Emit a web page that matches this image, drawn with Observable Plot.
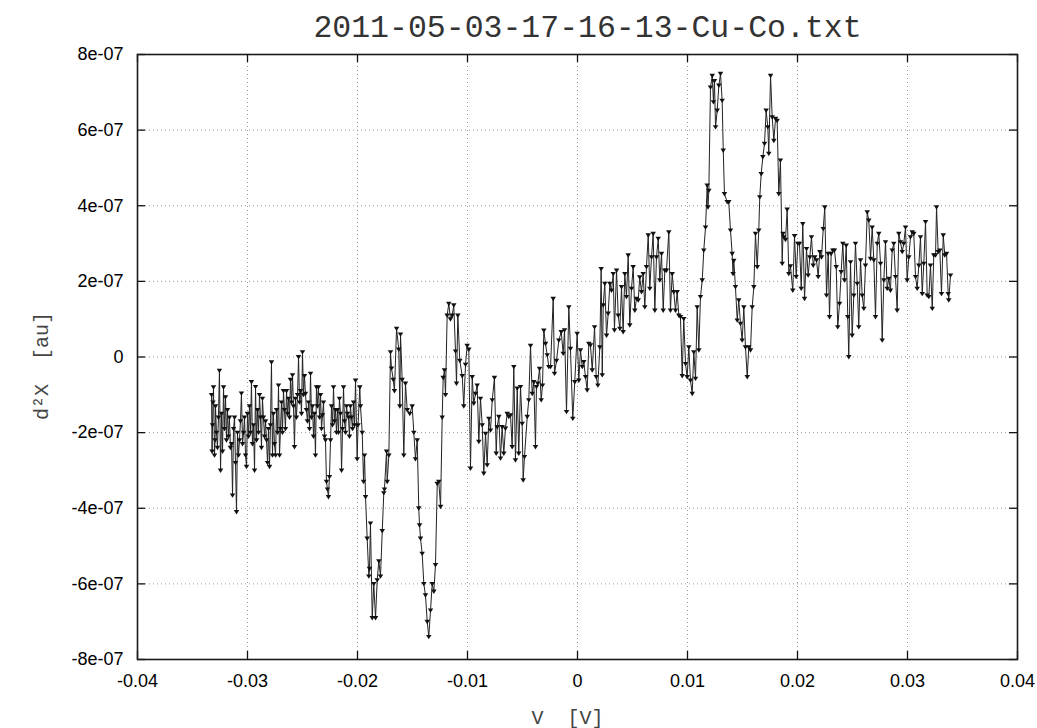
<!DOCTYPE html>
<html>
<head>
<meta charset="utf-8">
<script src="https://cdn.jsdelivr.net/npm/d3@7"></script>
<script src="https://cdn.jsdelivr.net/npm/@observablehq/plot@0.6"></script>
<style>
  html, body { margin: 0; padding: 0; background: #fff; }
  svg text { white-space: pre; }
</style>
</head>
<body>
<div id="chart"></div>
<script>
// ---- data (V in mV, d2X in units of 1e-7) ----
const segA_mV = [-33.27,-33.22,-33.18,-33.14,-33.09,-33.0,-32.95,-32.91,-32.82,-32.73,-32.64,-32.55,-32.45,-32.36,-32.27,-32.18,-32.09,-32.0,-31.91,-31.82,-31.73,-31.64,-31.55,-31.45,-31.36,-31.27,-31.18,-31.09,-31.0,-30.91,-30.82,-30.73,-30.64,-30.55,-30.45,-30.36,-30.27,-30.18,-30.09,-30.0,-29.91,-29.82,-29.73,-29.64,-29.55,-29.45,-29.36,-29.27,-29.18,-29.09,-29.0,-28.91,-28.82,-28.73,-28.64,-28.55,-28.45,-28.36,-28.27,-28.18,-28.09,-28.0,-27.91,-27.82,-27.73,-27.64,-27.55,-27.45,-27.36,-27.27,-27.18,-27.09,-27.0,-26.91,-26.82,-26.73,-26.64,-26.55,-26.45,-26.36,-26.27,-26.18,-26.09,-26.0,-25.91,-25.82,-25.73,-25.64,-25.55,-25.45,-25.36,-25.27,-25.18,-25.09,-25.0,-24.91,-24.82,-24.73,-24.64,-24.55,-24.45,-24.36,-24.27,-24.18,-24.09,-24.0,-23.91,-23.82,-23.73,-23.64,-23.55,-23.45,-23.36,-23.27,-23.18,-23.09,-23.0,-22.91,-22.82,-22.73,-22.64,-22.55,-22.45,-22.36,-22.27,-22.18,-22.09,-22.0,-21.91,-21.82,-21.73,-21.64,-21.55,-21.45,-21.36,-21.27,-21.18,-21.09,-21.0,-20.91,-20.82,-20.73,-20.64,-20.55,-20.45,-20.36,-20.27,-20.18];
const segA_d2x = [-1.0,-2.5,-1.8,-1.2,-0.8,-2.6,-2.2,-1.3,-2.0,-2.4,-1.6,-0.36,-3.0,-1.5,-2.5,-0.8,-1.9,-1.06,-2.2,-1.4,-2.1,-1.6,-2.4,-2.3,-3.66,-1.9,-1.6,-2.8,-4.1,-2.0,-2.6,-2.2,-1.7,-0.96,-2.3,-2.0,-1.6,-2.6,-2.9,-1.5,-2.1,-1.3,-2.0,-0.66,-2.3,-1.8,-3.0,-0.79,-2.2,-1.4,-2.0,-1.0,-1.6,-2.4,-1.1,-1.6,-2.1,-1.7,-2.2,-2.8,-1.9,-2.9,-1.8,-0.14,-2.6,-1.5,-2.3,-2.6,-1.4,-2.0,-0.75,-2.6,-1.9,-1.2,-2.0,-0.9,-1.4,-1.9,-0.9,-1.5,-1.1,-1.6,-0.6,-1.2,-0.48,-1.3,-2.38,-1.1,-1.6,-1.0,0.0,-1.2,-0.9,-1.5,0.13,-1.0,-0.5,-0.97,-1.4,-1.7,-1.2,-1.9,-0.44,-1.6,-1.3,-2.1,-1.5,-2.6,-0.8,-1.3,-0.8,-1.6,-1.0,-1.9,-1.54,-1.2,-2.1,-2.2,-3.3,-3.5,-3.7,-3.17,-2.2,-1.3,-1.8,-0.8,-1.7,-1.4,-2.0,-1.4,-2.0,-1.1,-1.5,-3.0,-1.9,-0.8,-1.7,-2.0,-1.3,-1.5,-1.6,-2.1,-1.3,-1.6,-1.9,-1.2,-1.8,-0.62];

const segB_mV = [-20.03,-19.95,-19.79,-19.73,-19.57,-19.45,-19.36,-19.27,-19.12,-18.97,-18.91,-18.82,-18.66,-18.52,-18.36,-18.21,-18.06,-17.91,-17.75,-17.61,-17.55,-17.36,-17.3,-17.15,-17.0,-16.91,-16.75,-16.64,-16.45,-16.25,-16.15,-16.09,-15.94,-15.79,-15.64,-15.48,-15.25,-15.03,-14.88,-14.73,-14.57,-14.43,-14.36,-14.27,-14.12,-13.97,-13.82,-13.66,-13.52,-13.36,-13.21,-13.06,-12.91,-12.75,-12.61,-12.45,-12.3,-12.21,-12.09,-12.0,-11.85,-11.7,-11.55,-11.39,-11.25,-11.09,-11.0,-10.88,-10.7,-10.48,-10.34,-10.18,-10.03,-9.88,-9.73,-9.57,-9.43,-9.27,-9.12,-8.97,-8.82,-8.66,-8.52,-8.36,-8.21,-8.06,-7.91,-7.75,-7.55,-7.39,-7.3,-7.15,-7.0,-6.85,-6.7,-6.55,-6.39,-6.25,-6.09,-5.94,-5.79,-5.64,-5.48,-5.34,-5.18,-5.03,-4.94,-4.82,-4.57,-4.43,-4.27,-4.12,-3.97,-3.82,-3.73,-3.61,-3.45,-3.3,-3.18,-3.06,-2.91,-2.75,-2.61];
const segB_d2x = [-2.7,-1.8,-0.8,-1.3,-2.0,-3.3,-2.6,-3.7,-4.8,-5.8,-5.6,-4.4,-6.9,-6.0,-6.9,-5.9,-5.4,-5.8,-4.6,-3.6,-3.5,-2.5,-3.3,-2.6,0.13,-0.3,-0.6,-0.9,0.75,0.2,-1.3,0.6,-0.6,-2.6,-0.7,-1.4,-1.5,-1.3,-2.0,-2.7,-2.2,-4.0,-4.45,-4.8,-5.2,-6.0,-6.3,-7.0,-7.4,-6.7,-6.0,-6.2,-5.5,-3.35,-3.3,-3.96,-1.6,-0.55,-0.35,-1.0,1.1,1.41,1.0,1.1,1.37,0.15,-0.7,1.1,-0.1,-0.5,-1.3,-0.2,0.3,0.2,-2.95,-0.53,-1.23,-0.97,-0.75,-2.24,-1.1,-1.8,-3.08,-2.03,-2.86,-1.63,-1.94,-1.14,-0.55,-2.55,-1.85,-1.58,-2.68,-1.85,-2.55,-1.89,-1.5,-1.58,-1.54,-2.38,-0.26,-2.73,-0.83,-2.55,-0.79,-1.76,-3.26,-2.64,-1.58,-1.14,0.3,-0.97,-0.66,-2.38,-0.79,-0.7,-0.31,-1.14,-0.75,0.7,0.35,0.05,-0.26];

const segC_mV = [-2.45,-2.21,-2.09,-1.91,-1.7,-1.48,-1.3,-1.18,-1.0,-0.79,-0.64,-0.43,-0.25,-0.03,0.12,0.27,0.43,0.57,0.73,0.88,1.03,1.18,1.34,1.55,1.7,1.85,2.03,2.15,2.25,2.34,2.48,2.64,2.79,2.94,3.09,3.25,3.36,3.55,3.7,3.85,4.0,4.15,4.3,4.45,4.61,4.75,4.91,5.06,5.21,5.36,5.52,5.66,5.82,5.97,6.12,6.27,6.43,6.57,6.73,6.88,7.03,7.18,7.34,7.48,7.64,7.79,7.94,8.09,8.3,8.45,8.61,8.75,8.91,9.06,9.21,9.36,9.52,9.66,9.82,9.97,10.12,10.27,10.43,10.57,10.73,10.88,11.03,11.18,11.34,11.48];
const segC_d2x = [-0.26,1.54,-0.44,-0.1,0.44,0.66,0.09,0.71,-1.45,1.32,0.22,-1.63,-0.66,0.62,-0.62,0.18,-0.26,-0.13,-0.53,-0.88,0.35,0.31,-0.35,0.79,-0.53,-0.75,0.26,2.33,-0.48,1.37,1.94,0.57,1.15,1.94,1.76,2.2,0.71,2.29,1.1,0.75,1.85,0.66,2.2,1.59,2.69,0.84,1.81,2.38,1.23,1.54,1.5,2.11,1.72,2.2,1.32,2.38,3.22,1.81,2.64,3.26,1.23,2.64,3.13,2.03,2.73,1.23,2.29,2.29,3.3,1.23,2.2,1.72,1.23,1.72,1.1,1.06,-0.5,1.01,-0.18,-0.53,0.26,-0.62,-0.97,0.13,-0.57,1.32,0.18,1.59,2.03,2.82];

const segD_mV = [11.64,11.79,11.86,11.94,12.09,12.25,12.36,12.45,12.55,12.7,12.85,13.0,13.15,13.25,13.36,13.61,13.75,13.91,14.06,14.14,14.21,14.36,14.52,14.66,14.82,14.97,15.12,15.27,15.43,15.57,15.73,15.88,16.03,16.18,16.34,16.48,16.57,16.7,16.85,17.0,17.15,17.3,17.39,17.55,17.7,17.85,18.0,18.15,18.3,18.45,18.61,18.68,18.75,18.91];
const segD_d2x = [3.43,4.54,3.96,4.4,7.13,7.44,6.74,7.3,6.08,6.52,7.18,7.49,6.78,5.46,4.31,4.1,4.1,3.35,2.73,2.2,2.55,1.85,0.97,1.5,0.88,0.44,1.32,0.26,-0.53,0.26,0.18,1.32,1.85,3.26,2.38,3.35,4.23,4.84,5.29,5.64,6.52,6.08,5.38,7.44,6.34,5.72,6.3,6.25,4.31,5.2,2.47,3.26,3.17,3.1];

const segE_mV = [19.06,19.21,19.36,19.57,19.73,19.88,20.03,20.18,20.34,20.48,20.64,20.82,20.97,21.12,21.27,21.43,21.57,21.73,21.88,22.03,22.18,22.34,22.48,22.64,22.79,22.91,23.06,23.21,23.36,23.52,23.66,23.82,23.97,24.12,24.27,24.43,24.57,24.66,24.82,24.97,25.12,25.27,25.43,25.57,25.73,25.88,26.03,26.18,26.34,26.48,26.64,26.79,26.94,27.09,27.25,27.39,27.55,27.7,27.85,28.0,28.15,28.3,28.45,28.61,28.75,28.91,29.06,29.21,29.36,29.52,29.66,29.82,29.97,30.12,30.27,30.43,30.57,30.73,30.88,31.03,31.18,31.34,31.48,31.64,31.79,31.94,32.09,32.25,32.39,32.55,32.64,32.79,32.94,33.09,33.25,33.39,33.55,33.7,33.75,33.91];
const segE_d2x = [3.9,2.2,2.4,1.76,3.2,2.12,3.0,3.0,1.81,3.52,1.54,2.86,2.16,2.64,3.17,2.42,2.64,2.56,2.12,2.78,2.64,3.39,3.96,1.63,2.73,1.06,2.73,2.82,2.82,2.38,0.79,1.41,2.25,3.0,2.03,2.95,1.06,0.0,2.51,0.57,1.63,3.0,1.94,0.79,2.56,1.63,1.28,2.42,3.83,3.61,2.6,3.43,2.56,1.06,3.0,3.26,2.47,0.44,2.03,3.04,1.81,2.07,1.76,2.82,3.0,2.12,1.23,3.26,3.04,2.78,3.0,3.43,2.03,2.64,3.17,3.3,3.26,2.12,1.81,2.42,3.17,1.67,2.47,3.57,1.63,1.59,2.42,1.28,2.69,2.69,3.96,2.78,2.82,1.67,3.22,2.69,2.73,1.67,1.5,2.16];

const xTicks = [-0.04,-0.03,-0.02,-0.01,0,0.01,0.02,0.03,0.04];
const xTickLabels = ["-0.04","-0.03","-0.02","-0.01","0","0.01","0.02","0.03","0.04"];
const yTicks = [-8e-7,-6e-7,-4e-7,-2e-7,0,2e-7,4e-7,6e-7,8e-7];
const yTickLabels = ["-8e-07","-6e-07","-4e-07","-2e-07","0","2e-07","4e-07","6e-07","8e-07"];

const titleText = "2011-05-03-17-16-13-Cu-Co.txt";
const xLabel = "V  [V]";
const yLabel = "d\u00b2X  [au]";

// ---- build table ----
const mV = [...segA_mV, ...segB_mV, ...segC_mV, ...segD_mV, ...segE_mV];
const d2x = [...segA_d2x, ...segB_d2x, ...segC_d2x, ...segD_d2x, ...segE_d2x];
const data = mV.map((v, i) => ({V: v / 1000, Y: d2x[i] * 1e-7}));

const W = 1037, H = 728;
const mL = 137, mR = 20, mT = 54, mB = 69;
const frameW = W - mL - mR, frameH = H - mT - mB;
const tickLen = 8;

const downTriangle = {
  draw(context, size) {
    const s = Math.sqrt(size) * 0.62;
    context.moveTo(-s, -s * 0.7);
    context.lineTo(s, -s * 0.7);
    context.lineTo(0, s * 0.9);
    context.closePath();
  }
};

const sans = "'Liberation Sans', Arial, Helvetica, sans-serif";
const mono = "'Liberation Mono', 'DejaVu Sans Mono', monospace";
const fmtX = d => xTickLabels[xTicks.indexOf(d)];
const fmtY = d => yTickLabels[yTicks.indexOf(d)];

const chart = Plot.plot({
  width: W,
  height: H,
  marginLeft: mL,
  marginRight: mR,
  marginTop: mT,
  marginBottom: mB,
  style: {background: "#fff", color: "#000", fontFamily: sans},
  x: {domain: [-0.04, 0.04]},
  y: {domain: [-8e-7, 8e-7]},
  marks: [
    Plot.gridX({ticks: xTicks, stroke: "#9a9a9a", strokeOpacity: 1, strokeWidth: 1, strokeDasharray: "1,3"}),
    Plot.gridY({ticks: yTicks, stroke: "#9a9a9a", strokeOpacity: 1, strokeWidth: 1, strokeDasharray: "1,3"}),
    Plot.ruleX(xTicks, {x: d => d, insetTop: frameH - tickLen, stroke: "#111", strokeWidth: 1.3}),
    Plot.ruleX(xTicks, {x: d => d, insetBottom: frameH - tickLen, stroke: "#111", strokeWidth: 1.3}),
    Plot.ruleY(yTicks, {y: d => d, insetRight: frameW - tickLen, stroke: "#111", strokeWidth: 1.3}),
    Plot.ruleY(yTicks, {y: d => d, insetLeft: frameW - tickLen, stroke: "#111", strokeWidth: 1.3}),
    Plot.axisX({ticks: xTicks, tickFormat: fmtX, tickSize: 0, tickPadding: 15, fontSize: 18, fontFamily: sans, label: null}),
    Plot.axisY({ticks: yTicks, tickFormat: fmtY, tickSize: 0, tickPadding: 14, fontSize: 18, fontFamily: sans, label: null}),
    Plot.line(data, {x: "V", y: "Y", stroke: "#222", strokeWidth: 1}),
    Plot.dot(data, {x: "V", y: "Y", symbol: downTriangle, r: 2.5, fill: "#111", stroke: "none"}),
    Plot.frame({stroke: "#1a1a1a", strokeWidth: 1.6}),
    Plot.text([titleText], {frameAnchor: "top", lineAnchor: "bottom", dy: -18, dx: 10, fontSize: 31.5, fontFamily: mono, fill: "#333"}),
    Plot.text([xLabel], {frameAnchor: "bottom", lineAnchor: "bottom", dy: 64, dx: -10, fontSize: 20, fontFamily: mono, fill: "#444"}),
    Plot.text([yLabel], {frameAnchor: "left", textAnchor: "middle", dx: -96, dy: 9, rotate: -90, fontSize: 20, fontFamily: mono, fill: "#444"})
  ]
});

document.getElementById("chart").appendChild(chart);
</script>
</body>
</html>
